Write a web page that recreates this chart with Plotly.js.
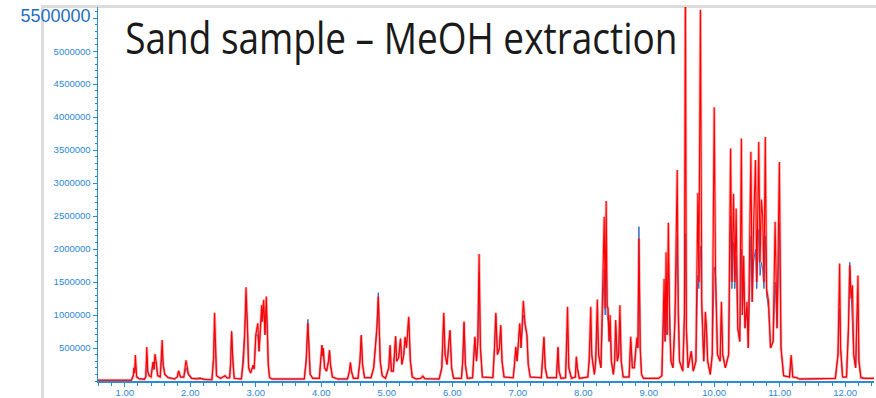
<!DOCTYPE html>
<html>
<head>
<meta charset="utf-8">
<script src="https://cdn.plot.ly/plotly-3.0.1.min.js"></script>
<style>
  html, body { margin: 0; padding: 0; background: #fff; }
  #wrap { position: relative; width: 876px; height: 398px; overflow: hidden; }
  #frame { position: absolute; left: 41px; top: 5px; width: 840px; height: 400px;
           border-left: 3px solid #dcdcdc; border-top: 3px solid #dcdcdc; z-index: 0; }
  #chart { position: absolute; left: 0; top: 0; width: 876px; height: 398px; z-index: 1; }
</style>
</head>
<body>
<div id="wrap"><div id="frame"></div><div id="chart"></div></div>
<script>
// Retention time (min)
const rt = [0.59,1.10,1.13,1.14,1.15,1.16,1.17,1.18,1.22,1.30,1.32,1.335,1.35,1.37,1.40,1.43,1.445,1.46,1.48,1.50,1.54,1.57,1.585,1.61,1.66,1.76,1.80,1.82,1.85,1.90,1.935,1.97,2.02,2.10,2.15,2.22,2.33,2.355,2.37,2.385,2.40,2.46,2.53,2.56,2.60,2.615,2.63,2.65,2.67,2.78,2.81,2.83,2.85,2.87,2.89,2.92,2.96,2.975,3.00,3.03,3.05,3.07,3.09,3.10,3.12,3.14,3.16,3.175,3.19,3.21,3.25,3.74,3.77,3.795,3.81,3.83,3.87,3.97,3.99,4.01,4.02,4.03,4.05,4.08,4.11,4.125,4.14,4.17,4.25,4.40,4.43,4.445,4.46,4.49,4.56,4.59,4.61,4.63,4.66,4.76,4.80,4.83,4.85,4.87,4.885,4.90,4.93,4.98,5.03,5.05,5.07,5.10,5.135,5.15,5.18,5.21,5.23,5.26,5.28,5.30,5.335,5.36,5.39,5.45,5.52,5.55,5.58,5.80,5.84,5.87,5.89,5.92,5.965,5.99,6.02,6.14,6.16,6.18,6.20,6.23,6.31,6.33,6.345,6.37,6.39,6.41,6.43,6.46,6.62,6.645,6.665,6.69,6.72,6.74,6.76,6.79,6.93,6.95,6.97,6.99,7.03,7.05,7.085,7.11,7.14,7.16,7.19,7.36,7.40,7.42,7.45,7.59,7.615,7.63,7.66,7.73,7.76,7.78,7.82,7.88,7.895,7.91,7.94,8.07,8.09,8.115,8.13,8.17,8.19,8.215,8.235,8.27,8.295,8.31,8.32,8.335,8.35,8.365,8.38,8.395,8.41,8.43,8.46,8.48,8.495,8.52,8.54,8.56,8.58,8.61,8.70,8.725,8.75,8.78,8.80,8.82,8.835,8.85,8.87,8.89,8.92,9.15,9.20,9.235,9.25,9.265,9.28,9.30,9.32,9.34,9.37,9.40,9.435,9.45,9.47,9.52,9.545,9.56,9.575,9.60,9.65,9.68,9.72,9.75,9.765,9.79,9.81,9.84,9.865,9.88,9.90,9.94,9.97,10.00,10.02,10.05,10.09,10.11,10.13,10.17,10.22,10.25,10.27,10.295,10.315,10.335,10.36,10.39,10.415,10.43,10.45,10.47,10.50,10.52,10.56,10.58,10.60,10.63,10.65,10.68,10.70,10.72,10.74,10.76,10.78,10.80,10.83,10.86,10.90,10.93,10.96,10.995,11.02,11.06,11.15,11.175,11.20,11.26,11.30,11.50,11.70,11.85,11.89,11.915,11.93,11.96,12.02,12.05,12.07,12.09,12.11,12.13,12.16,12.18,12.195,12.21,12.24,12.30,12.44];

// Red trace intensity (thousands of counts)
const redK = [12,12,80,200,120,395,240,60,30,25,60,515,140,80,60,290,180,410,280,80,60,620,250,100,50,30,60,155,60,60,315,110,40,30,40,25,20,350,1035,500,80,40,80,45,50,250,750,300,40,30,300,700,1420,900,200,120,240,180,700,875,450,800,1150,900,1230,700,1280,800,250,50,30,30,300,880,400,100,40,40,300,545,380,500,200,150,300,470,250,60,30,30,150,283,150,40,40,300,697,250,50,50,200,600,800,1280,700,300,80,40,200,545,150,150,680,300,350,645,250,400,670,500,975,300,60,30,40,75,35,30,200,1035,400,250,773,200,40,40,300,900,250,40,50,400,672,300,600,1925,500,60,50,500,1035,400,500,850,300,60,50,250,520,300,875,500,1215,875,700,250,60,50,672,200,50,50,520,150,40,50,1125,200,40,60,370,200,40,60,300,1125,400,100,300,1235,400,200,1200,2100,2490,1100,2730,1140,1100,600,1000,300,100,300,925,300,400,1150,300,60,60,672,200,200,495,660,500,2160,500,100,40,40,80,1550,600,1950,700,2400,800,300,200,900,3200,1050,300,150,1000,6200,800,200,450,150,300,2850,1500,5630,1200,300,1050,850,300,100,400,4150,1600,400,300,1200,400,200,400,3525,1500,2840,1500,2615,800,600,3675,1000,1900,800,1200,500,3475,1200,2300,3350,1500,3625,1800,2750,2500,1500,3700,1400,1200,500,600,2415,800,3320,500,80,60,395,60,50,30,30,30,40,400,1780,500,60,60,800,1755,1250,1450,400,200,950,1600,300,50,40,40];

// Blue trace intensity (thousands of counts)
const blueK = [12,12,100,200,130,260,200,70,40,30,70,380,150,90,60,280,170,300,260,90,70,450,260,110,60,30,60,150,60,55,200,90,40,40,45,25,20,350,800,450,80,40,80,45,50,300,760,300,40,30,400,750,1200,850,200,120,240,180,700,700,450,800,1100,900,1150,700,1100,800,250,50,30,30,350,935,450,100,40,40,300,540,380,480,200,150,300,460,250,60,30,30,150,270,150,40,40,300,680,250,50,50,200,600,850,1340,700,300,80,40,200,520,150,150,650,300,350,620,250,400,650,500,950,300,60,30,40,75,35,30,200,980,400,250,760,200,40,40,300,880,250,40,50,400,650,300,600,1650,500,60,50,500,1000,400,500,820,300,60,50,250,500,300,850,500,1000,875,680,250,60,50,650,200,50,50,500,150,40,50,800,200,40,60,350,200,40,60,300,800,400,100,300,900,400,200,1000,1200,1700,1000,2000,1000,900,600,900,300,100,300,850,300,400,900,300,60,60,600,200,200,495,600,500,2340,500,100,40,40,80,1200,600,1500,700,1800,800,300,200,900,2200,1000,300,150,1000,2240,800,200,450,150,300,1600,1400,2050,1100,300,900,800,300,100,400,1730,1600,400,300,1000,400,200,400,2500,1400,2100,1400,1900,800,600,2000,1000,1500,800,1100,500,2200,1200,1800,2000,1400,2300,1600,1800,1700,1400,2200,1300,1100,500,600,1500,800,2400,500,80,60,350,60,50,30,30,30,40,400,1100,500,60,60,800,1800,1200,900,400,200,950,1100,300,50,40,40];

const yTickVals = [500000,1000000,1500000,2000000,2500000,3000000,3500000,4000000,4500000,5000000,5500000];
const yTickText = ['500000','1000000','1500000','2000000','2500000','3000000','3500000','4000000','4500000','5000000',
                   '<span style="font-size:18px;fill:#1f6fbf">5500000</span>'];
const titleText = 'Sand sample – MeOH extraction';

const red = redK.map(v => v * 1000);
const blue = blueK.map(v => v * 1000);

const axisBlue = 'rgb(40,140,215)';
const labelBlue = 'rgb(45,135,210)';

const traces = [
  { x: rt, y: blue, type: 'scatter', mode: 'lines', line: { color: 'rgb(50,105,190)', width: 1 }, hoverinfo: 'skip' },
  { x: rt, y: red, type: 'scatter', mode: 'lines', line: { color: 'rgba(255,50,50,0.4)', width: 2.8 }, hoverinfo: 'skip' },
  { x: rt, y: red, type: 'scatter', mode: 'lines', line: { color: 'rgb(255,0,0)', width: 1.1 }, hoverinfo: 'skip' }
];

const layout = {
  width: 876, height: 398,
  margin: { l: 98, r: 2, t: 7, b: 17, pad: 0 },
  paper_bgcolor: 'rgba(0,0,0,0)',
  plot_bgcolor: 'rgba(0,0,0,0)',
  showlegend: false,
  hovermode: false,
  font: { family: 'Liberation Sans, Arial, sans-serif', color: labelBlue },
  title: {
    text: titleText,
    font: { family: 'Open Sans, Noto Sans, sans-serif', size: 37, color: '#1a1a1a' },
    xref: 'paper', x: 0.035, xanchor: 'left',
    yref: 'container', y: 0.9, yanchor: 'middle'
  },
  xaxis: {
    range: [0.59, 12.44],
    showgrid: false, zeroline: false,
    showline: true, linecolor: axisBlue, linewidth: 1.5,
    ticks: 'outside', ticklen: 4, tickcolor: axisBlue, tickwidth: 1,
    dtick: 1, tick0: 0, tickformat: '.2f',
    tickfont: { size: 9.5, color: labelBlue },
    ticklabelstandoff: -2,
    minor: { dtick: 0.2, tick0: 0, ticks: 'outside', ticklen: 3, tickcolor: axisBlue },
    fixedrange: true
  },
  yaxis: {
    range: [0, 5670000],
    showgrid: false, zeroline: false,
    showline: true, linecolor: axisBlue, linewidth: 1.5,
    ticks: 'outside', ticklen: 4, tickcolor: axisBlue, tickwidth: 1,
    tickmode: 'array', tickvals: yTickVals, ticktext: yTickText,
    tickfont: { size: 9.5, color: labelBlue },
    minor: { dtick: 100000, tick0: 0, ticks: 'outside', ticklen: 2, tickcolor: axisBlue },
    fixedrange: true
  }
};

Plotly.newPlot('chart', traces, layout, { displayModeBar: false, staticPlot: true }).then(function () {
  // stretch the title vertically to match the reference's tall lettering
  const t = document.querySelector('#chart .gtitle');
  if (!t) return;
  const bb = t.getBBox();
  const fs = 37;
  const baseline = bb.y + 1.069 * fs;
  const targetBaseline = 53;
  const sy = 1.16;
  t.setAttribute('transform', 'translate(0,' + targetBaseline + ') scale(1,' + sy + ') translate(0,' + (-baseline) + ')');
});
</script>
</body>
</html>
